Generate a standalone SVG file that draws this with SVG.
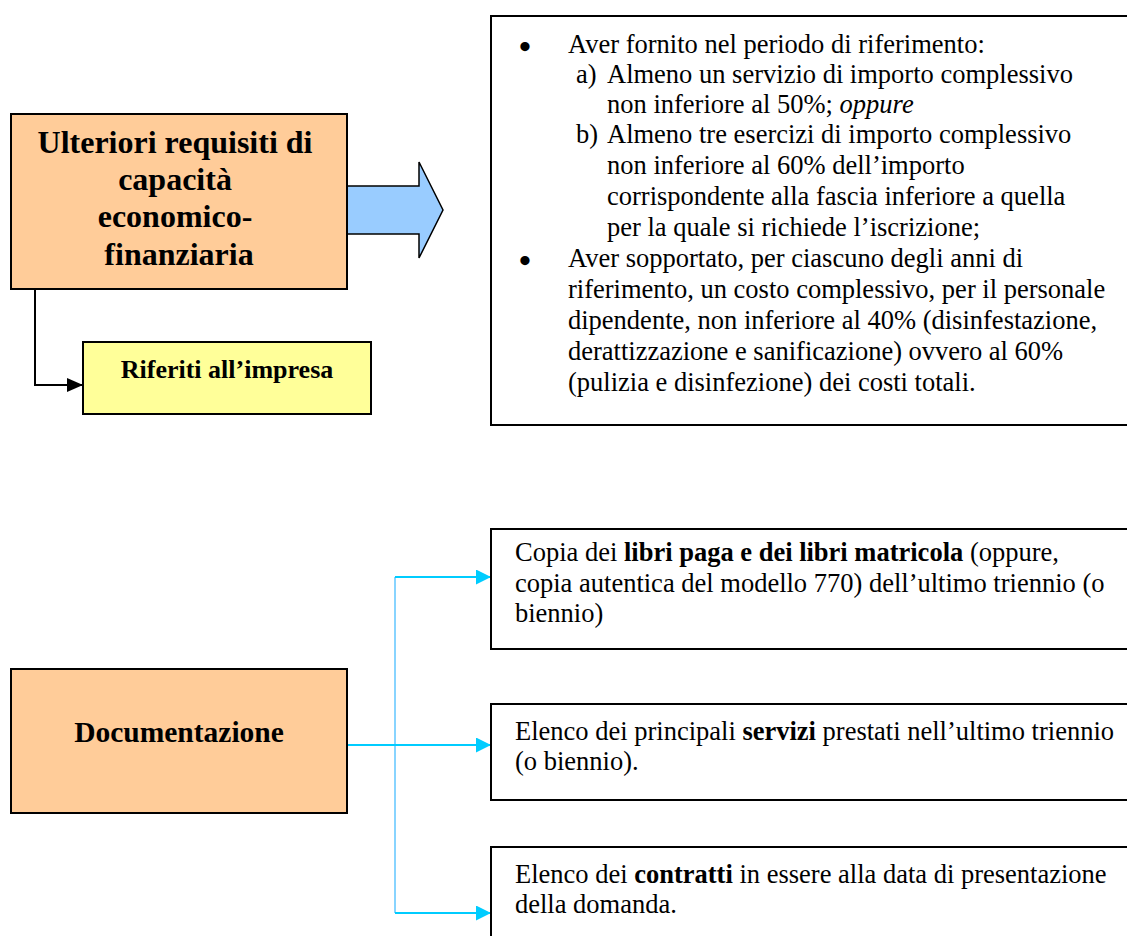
<svg xmlns="http://www.w3.org/2000/svg" width="1127" height="936" viewBox="0 0 1127 936">
<style>
  .t { font-family: "Liberation Serif", "Times New Roman", serif; fill: #000; }
  .reg { font-size: 26.5px; }
  .b { font-weight: bold; }
  .bul { font-size: 34px; font-weight: bold; }
  .box { stroke: #000; stroke-width: 2; }
  .orange { fill: #FFCC99; }
  .yellow { fill: #FFFF99; }
  .white { fill: #FFFFFF; }
  .cyan { stroke: #00CCFF; stroke-width: 2; fill: none; }
</style>
<defs>
  <marker id="arrBlack" markerUnits="userSpaceOnUse" markerWidth="16" markerHeight="14" refX="16" refY="7" orient="auto">
    <path d="M0,0 L16,7 L0,14 z" fill="#000"/>
  </marker>
  <marker id="arrCyan" markerUnits="userSpaceOnUse" markerWidth="15" markerHeight="15" refX="15" refY="7.5" orient="auto">
    <path d="M0,0 L15,7.5 L0,15 z" fill="#00CCFF"/>
  </marker>
</defs>
<rect width="1127" height="936" fill="#FFFFFF"/>

<g id="connectors">
  <polygon id="block-arrow" points="347,186 419,186 419,162 443,210 419,258 419,234 347,234" fill="#99CCFF" stroke="#000" stroke-width="1.5"/>
  <path d="M35,289 V385 H83" fill="none" stroke="#000" stroke-width="2" marker-end="url(#arrBlack)"/>
  <path d="M395,577 V913" fill="none" stroke="#88D4FF" stroke-width="2"/>
  <path class="cyan" d="M395,577 H491" marker-end="url(#arrCyan)"/>
  <path class="cyan" d="M347,745 H491" marker-end="url(#arrCyan)"/>
  <path class="cyan" d="M395,913 H491" marker-end="url(#arrCyan)"/>
</g>

<g id="node-ulteriori">
  <rect class="box orange" x="11" y="114" width="336" height="175"/>
  <text class="t b" font-size="32" text-anchor="middle">
    <tspan x="179" y="153">Ulteriori requisiti di</tspan>
    <tspan x="179" y="190">capacità</tspan>
    <tspan x="179" y="227">economico-</tspan>
    <tspan x="179" y="265">finanziaria</tspan>
  </text>
</g>

<g id="node-riferiti">
  <rect class="box yellow" x="83" y="342" width="288" height="72"/>
  <text class="t b" font-size="26" text-anchor="middle" x="227" y="378">Riferiti all’impresa</text>
</g>

<g id="node-requisiti">
  <rect class="box white" x="491" y="16" width="700" height="409"/>
  <g class="t reg">
    <text class="bul" x="525" y="58" text-anchor="middle">•</text>
    <text x="568" y="53">Aver fornito nel periodo di riferimento:</text>
    <text x="576" y="83">a)</text>
    <text x="607" y="83">Almeno un servizio di importo complessivo</text>
    <text x="607" y="113">non inferiore al 50%; <tspan font-style="italic">oppure</tspan></text>
    <text x="576" y="143">b)</text>
    <text x="607" y="143">Almeno tre esercizi di importo complessivo</text>
    <text x="607" y="174">non inferiore al 60% dell’importo</text>
    <text x="607" y="205">corrispondente alla fascia inferiore a quella</text>
    <text x="607" y="236">per la quale si richiede l’iscrizione;</text>
    <text class="bul" x="525" y="272" text-anchor="middle">•</text>
    <text x="568" y="267">Aver sopportato, per ciascuno degli anni di</text>
    <text x="568" y="298">riferimento, un costo complessivo, per il personale</text>
    <text x="568" y="329">dipendente, non inferiore al 40% (disinfestazione,</text>
    <text x="568" y="360">derattizzazione e sanificazione) ovvero al 60%</text>
    <text x="568" y="391">(pulizia e disinfezione) dei costi totali.</text>
  </g>
</g>

<g id="node-documentazione">
  <rect class="box orange" x="11" y="669" width="336" height="144"/>
  <text class="t b" font-size="29.5" text-anchor="middle" x="179" y="742">Documentazione</text>
</g>

<g id="node-libri">
  <rect class="box white" x="491" y="529" width="700" height="120"/>
  <g class="t reg">
    <text x="515" y="561">Copia dei <tspan font-weight="bold">libri paga e dei libri matricola</tspan> (oppure,</text>
    <text x="515" y="592">copia autentica del modello 770) dell’ultimo triennio (o</text>
    <text x="515" y="622">biennio)</text>
  </g>
</g>

<g id="node-servizi">
  <rect class="box white" x="491" y="704" width="700" height="96"/>
  <g class="t reg">
    <text x="515" y="740">Elenco dei principali <tspan font-weight="bold">servizi</tspan> prestati nell’ultimo triennio</text>
    <text x="515" y="770">(o biennio).</text>
  </g>
</g>

<g id="node-contratti">
  <rect class="box white" x="491" y="847" width="700" height="200"/>
  <g class="t reg">
    <text x="515" y="883">Elenco dei <tspan font-weight="bold">contratti</tspan> in essere alla data di presentazione</text>
    <text x="515" y="913">della domanda.</text>
  </g>
</g>
</svg>
